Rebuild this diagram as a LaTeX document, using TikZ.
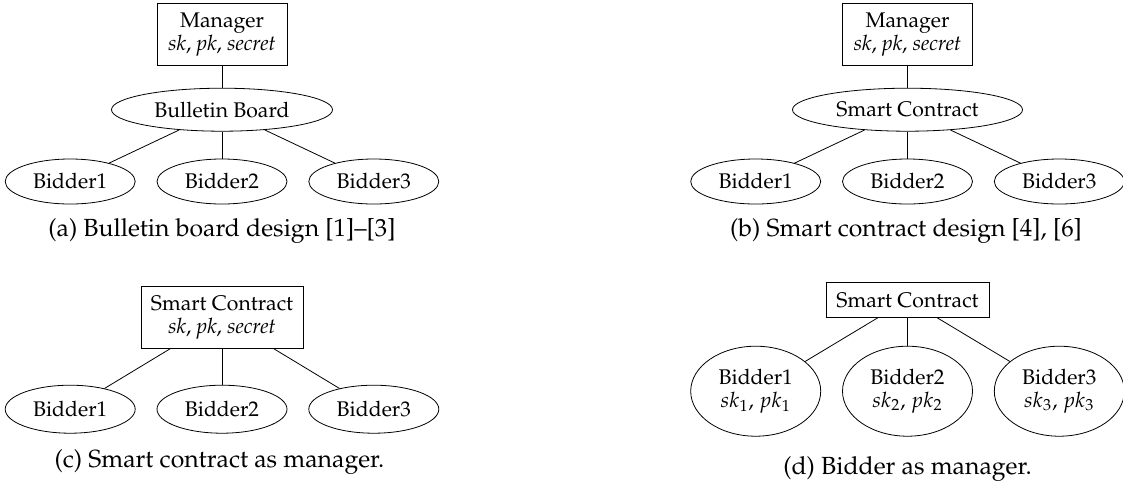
\documentclass[tikz,border=0pt]{standalone}
\usepackage[T1]{fontenc}
\usepackage{mathpazo}
\usepackage{tikz}
\usetikzlibrary{positioning,calc,shapes.geometric}

\begin{document}
\begin{tikzpicture}[
      node distance=10.5pt,
      box/.style={draw,rectangle,align=center,inner sep=2pt,
        font=\fontsize{10.6}{11.2}\selectfont},
      oval/.style={draw,ellipse,align=center,inner sep=0pt,
        minimum width=65pt,minimum height=22.5pt,
        font=\fontsize{10.6}{11.2}\selectfont},
      caption/.style={anchor=base,inner sep=0pt,
        font=\fontsize{12.4}{14}\selectfont},
      ]
      \useasboundingbox (0,0) rectangle (561.5pt,-241.5pt);
      % (a) bulletin board
      \coordinate(board) at (111pt,-1.5pt);
      \node[box,below=0pt of board,minimum width=65pt,minimum height=31pt]
        (boardManager) {Manager\\\textit{sk}, \textit{pk}, \textit{secret}};
      \node[oval,below=11pt of boardManager,minimum width=110.5pt,minimum height=21.5pt]
        (boardHub) {Bulletin Board};
      \node[oval,below=13.5pt of boardHub] (boardB) {Bidder2};
      \node[oval,left=of boardB]  (boardA) {Bidder1};
      \node[oval,right=of boardB] (boardC) {Bidder3};
      \node[caption] (boardCaption) at ($(boardB.south)+(0pt,-16pt)$)
        {(a) Bulletin board design [1]--[3]};
      \path
      (boardManager) edge (boardHub)
      (boardHub) edge (boardA)
      (boardHub) edge (boardB)
      (boardHub) edge (boardC);
      % (b) smart contract
      \coordinate(contract) at (453.75pt,-1.5pt);
      \node[box,below=0pt of contract,minimum width=65pt,minimum height=31pt]
        (contractManager) {Manager\\\textit{sk}, \textit{pk}, \textit{secret}};
      \node[oval,below=11pt of contractManager,minimum width=115pt,minimum height=21.5pt]
        (contractHub) {Smart Contract};
      \node[oval,below=13.5pt of contractHub] (contractB) {Bidder2};
      \node[oval,left=of contractB]  (contractA) {Bidder1};
      \node[oval,right=of contractB] (contractC) {Bidder3};
      \node[caption] (contractCaption) at ($(contractB.south)+(-0.75pt,-16pt)$)
        {(b) Smart contract design [4], [6]};
      \path
      (contractManager) edge (contractHub)
      (contractHub) edge (contractA)
      (contractHub) edge (contractB)
      (contractHub) edge (contractC);
      % (c) smart contract as manager
      \coordinate(scm) at (111pt,-143pt);
      \node[box,below=0pt of scm,minimum width=81pt,minimum height=31pt]
        (scmManager) {Smart Contract\\\textit{sk}, \textit{pk}, \textit{secret}};
      \node[oval,below=18pt of scmManager,minimum height=24pt] (scmB) {Bidder2};
      \node[oval,left=of scmB,minimum height=24pt]  (scmA) {Bidder1};
      \node[oval,right=of scmB,minimum height=24pt] (scmC) {Bidder3};
      \node[caption] (scmCaption) at ($(scmB.south)+(-1.25pt,-17pt)$)
        {(c) Smart contract as manager.};
      \path
      (scmManager) edge (scmA)
      (scmManager) edge (scmB)
      (scmManager) edge (scmC);
      % (d) bidder as manager
      \coordinate(bam) at (453.75pt,-141pt);
      \node[box,below=0pt of bam,minimum width=81.5pt,minimum height=17.5pt]
        (bamManager) {Smart Contract};
      \node[oval,below=14pt of bamManager,minimum height=45pt] (bamB)
        {Bidder2\\$sk_2$, $pk_2$};
      \node[oval,left=of bamB,minimum height=45pt]  (bamA)
        {Bidder1\\$sk_1$, $pk_1$};
      \node[oval,right=of bamB,minimum height=45pt] (bamC)
        {Bidder3\\$sk_3$, $pk_3$};
      \node[caption] (bamCaption) at ($(bamB.south)+(0pt,-18.7pt)$)
        {(d) Bidder as manager.};
      \path
      (bamManager) edge (bamA)
      (bamManager) edge (bamB)
      (bamManager) edge (bamC);
    \end{tikzpicture}
\end{document}
